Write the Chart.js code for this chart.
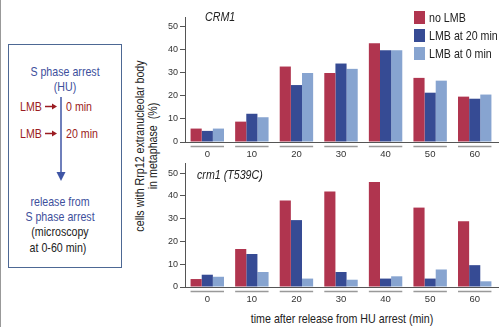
<!DOCTYPE html>
<html>
<head>
<meta charset="utf-8">
<script src="https://cdn.jsdelivr.net/npm/chart.js@4.4.1/dist/chart.umd.min.js"></script>
<style>
  body { margin: 0; background: #fff; }
  #page { position: relative; width: 499px; height: 327px; overflow: hidden;
    font-family: "Liberation Sans", Arial, sans-serif; color: #222; }
  .abs { position: absolute; }
  .cv { position: absolute; }
  .lg { position: absolute; left: 414px; width: 11px; height: 13px; }
  .lgt { position: absolute; left: 429px; font-size: 13px; line-height: 13px; white-space: nowrap;
    transform: scaleX(0.82); transform-origin: 0 0; }
  .ttl { position: absolute; font-size: 13px; font-style: italic; white-space: nowrap;
    transform: scaleX(0.82); transform-origin: 0 0; }
</style>
</head>
<body>
<div id="page">
  <div class="abs" style="left:0;top:0;width:1px;height:327px;background:#999"></div>
  <svg class="abs" style="left:0;top:0" width="140" height="327" font-family="Liberation Sans, Arial, sans-serif" font-size="13">
    <rect x="8.5" y="44.5" width="113" height="223" fill="none" stroke="#4d6894" stroke-width="1"/>
    <g transform="translate(65,76) scale(0.82,1)"><text text-anchor="middle" fill="#3d4f9c">S phase arrest</text></g>
    <g transform="translate(65,91) scale(0.82,1)"><text text-anchor="middle" fill="#3d4f9c">(HU)</text></g>
    <g transform="translate(20,111) scale(0.82,1)"><text fill="#9b1c22">LMB</text></g>
    <g transform="translate(66,111) scale(0.82,1)"><text fill="#9b1c22">0 min</text></g>
    <g transform="translate(20,138) scale(0.82,1)"><text fill="#9b1c22">LMB</text></g>
    <g transform="translate(66,138) scale(0.82,1)"><text fill="#9b1c22">20 min</text></g>
    <line x1="45" y1="106.5" x2="53" y2="106.5" stroke="#9b1c22" stroke-width="1.5"/>
    <polygon points="52,103.5 57,106.5 52,109.5" fill="#9b1c22"/>
    <line x1="45" y1="133.5" x2="53" y2="133.5" stroke="#9b1c22" stroke-width="1.5"/>
    <polygon points="52,130.5 57,133.5 52,136.5" fill="#9b1c22"/>
    <line x1="61" y1="97" x2="61" y2="174" stroke="#3f55a5" stroke-width="1.5"/>
    <polygon points="56.5,172 65.5,172 61,181" fill="#3f55a5"/>
    <g transform="translate(60,206) scale(0.82,1)"><text text-anchor="middle" fill="#3d4f9c">release from</text></g>
    <g transform="translate(60,221) scale(0.82,1)"><text text-anchor="middle" fill="#3d4f9c">S phase arrest</text></g>
    <g transform="translate(60,236) scale(0.82,1)"><text text-anchor="middle" fill="#222">(microscopy</text></g>
    <g transform="translate(58,252) scale(0.82,1)"><text text-anchor="middle" fill="#222">at 0-60 min)</text></g>
  </svg>

  <div class="abs" style="left:38px;top:131px;width:220px;height:30px;transform:rotate(-90deg) scaleX(0.82);text-align:center;font-size:13px;line-height:13px;white-space:nowrap">
    cells with Rrp12 extranucleolar body<br>in metaphase&nbsp;&nbsp;(%)
  </div>
  <div class="abs" style="left:200px;top:311px;width:284px;text-align:center;font-size:13px;white-space:nowrap;transform:scaleX(0.82)">time after release from HU arrest (min)</div>

  <div class="cv" style="left:150px;top:0;width:349px;height:165px"><canvas id="top"></canvas></div>
  <div class="cv" style="left:150px;top:148px;width:349px;height:162px"><canvas id="bottom"></canvas></div>

  <div class="ttl" style="left:205px;top:9px">CRM1</div>
  <div class="ttl" style="left:197px;top:167px">crm1 (T539C)</div>

  <div class="lg" style="top:11px;background:#b0354f"></div>
  <div class="lgt" style="top:11px">no LMB</div>
  <div class="lg" style="top:29px;background:#364b94"></div>
  <div class="lgt" style="top:29px">LMB at 20 min</div>
  <div class="lg" style="top:47px;background:#87a4d0"></div>
  <div class="lgt" style="top:47px">LMB at 0 min</div>
</div>
<script>
const times = ['0', '10', '20', '30', '40', '50', '60']
const seriesNames = ['no LMB', 'LMB at 20 min', 'LMB at 0 min']
const colors = ['#b0354f', '#364b94', '#87a4d0']

// CRM1 (wild type)
const wtNoLMB = [5.8, 8.8, 32.6, 29.8, 42.7, 27.7, 19.6]
const wtLMB20 = [4.8, 12.2, 24.6, 33.9, 39.6, 21.3, 18.7]
const wtLMB0 = [5.8, 10.7, 29.8, 31.6, 39.6, 26.5, 20.5]

// crm1 (T539C)
const mutNoLMB = [3.5, 16.7, 38.0, 42.0, 46.2, 34.9, 28.9]
const mutLMB20 = [5.4, 14.5, 29.4, 6.6, 3.7, 3.7, 9.6]
const mutLMB0 = [4.5, 6.6, 3.7, 3.2, 4.7, 7.7, 2.5]

const yTicks = [0, 10, 20, 30, 40, 50]
const fontFamily = '"Liberation Sans", Arial, sans-serif'

// axis line out to the edge plus a grey bar under each time group
const groupLines = {
  id: 'groupLines',
  afterDraw(chart) {
    const ctx = chart.ctx
    const area = chart.chartArea
    const x = chart.scales.x
    const y0 = Math.round(chart.scales.y.getPixelForValue(0)) + 0.5
    ctx.save()
    ctx.strokeStyle = '#555'
    ctx.lineWidth = 1
    ctx.beginPath()
    ctx.moveTo(area.left, y0)
    ctx.lineTo(chart.width, y0)
    ctx.stroke()
    const half = (x.width / times.length) * 0.75 / 2
    ctx.strokeStyle = '#999'
    ctx.lineWidth = 1.5
    for (let i = 0; i < times.length; i++) {
      const cx = x.getPixelForTick(i)
      ctx.beginPath()
      ctx.moveTo(cx - half, y0 + 4)
      ctx.lineTo(cx + half, y0 + 4)
      ctx.stroke()
    }
    ctx.restore()
  }
}

function makeChart(id, values, yMax, padTop) {
  const ctx = document.getElementById(id).getContext('2d')
  return new Chart(ctx, {
    type: 'bar',
    data: {
      labels: times,
      datasets: values.map(function (v, i) {
        return {
          label: seriesNames[i],
          data: v,
          backgroundColor: colors[i],
          borderWidth: 0,
          categoryPercentage: 0.75,
          barPercentage: 1
        }
      })
    },
    options: {
      responsive: true,
      maintainAspectRatio: false,
      animation: false,
      layout: { padding: { top: padTop, right: 2, bottom: 0, left: 0 } },
      plugins: { legend: { display: false }, tooltip: { enabled: false } },
      scales: {
        x: {
          grid: { display: false, drawTicks: false },
          border: { display: false },
          ticks: { color: '#333', padding: 7, font: { family: fontFamily, size: 9.5 } },
          afterFit: function (s) { s.height = 23 }
        },
        y: {
          min: 0,
          max: yMax,
          afterBuildTicks: function (s) {
            s.ticks = yTicks.map(function (v) { return { value: v } })
          },
          grid: { drawOnChartArea: false, drawTicks: true, tickLength: 5, color: '#555' },
          border: { display: true, color: '#555' },
          ticks: { color: '#333', padding: 2, font: { family: fontFamily, size: 9 } },
          afterFit: function (s) { s.width = 35 }
        }
      }
    },
    plugins: [groupLines]
  })
}

window.onload = function () {
  makeChart('top', [wtNoLMB, wtLMB20, wtLMB0], 54, 17)
  makeChart('bottom', [mutNoLMB, mutLMB20, mutLMB0], 54.5, 15)
}
</script>
</body>
</html>
